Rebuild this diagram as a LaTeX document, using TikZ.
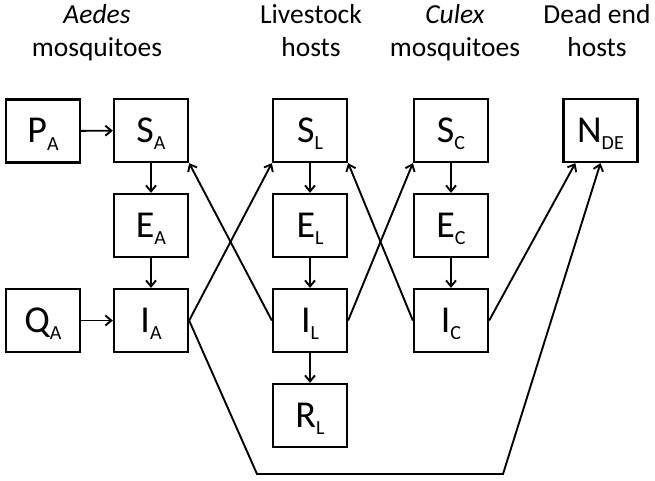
\documentclass[tikz,border=0pt]{standalone}
\usepackage{fontspec}
\setmainfont{Carlito}
\usetikzlibrary{arrows.meta,calc}
\newcommand\cmpt[2]{{\fontsize{38}{40}\selectfont #1}\smash{\raisebox{-7pt}{\fontsize{20}{22}\selectfont #2}}}
\begin{document}
\begin{tikzpicture}[x=1pt,y=-1pt,
  box/.style={draw, line width=2.3pt, minimum width=74pt, minimum height=63pt, inner sep=0pt, text height=24pt, text depth=0pt},
  hd/.style={font=\fontsize{27.5}{32}\selectfont, anchor=base, inner sep=0pt},
  arr/.style={-{Straight Barb[length=6pt,width=10pt]}, line width=1.9pt}]
\useasboundingbox (0,0) rectangle (655,481);
% headers
\node[hd] (h1a) at (97,24) {\itshape Aedes};
\node[hd] (h1b) at (97,57) {mosquitoes};
\node[hd] (h2a) at (311,24) {Livestock};
\node[hd] (h2b) at (311,57) {hosts};
\node[hd] (h3a) at (455,24) {\itshape Culex};
\node[hd] (h3b) at (455,57) {mosquitoes};
\node[hd] (h4a) at (597,24) {Dead end};
\node[hd] (h4b) at (597,57) {hosts};
% boxes
\node[box] (PA) at (43,131) {\cmpt{P}{A}};
\node[box] (QA) at (43,320.5) {\cmpt{Q}{A}};
\node[box] (SA) at (151,130.5) {\cmpt{S}{A}};
\node[box] (EA) at (151,225.5) {\cmpt{E}{A}};
\node[box] (IA) at (151,320.5) {\cmpt{I}{A}};
\node[box] (SL) at (310,130.5) {\cmpt{S}{L}};
\node[box] (EL) at (310,225.5) {\cmpt{E}{L}};
\node[box] (IL) at (310,320.5) {\cmpt{I}{L}};
\node[box] (RL) at (310,415.5) {\cmpt{R}{L}};
\node[box] (SC) at (451,130.5) {\cmpt{S}{C}};
\node[box] (EC) at (451,225.5) {\cmpt{E}{C}};
\node[box] (IC) at (451,320.5) {\cmpt{I}{C}};
\node[box] (NDE) at (600.5,130.5) {\cmpt{N}{DE}};
% arrows
\draw[arr] (PA) -- (SA);
\draw[arr] (QA) -- (IA);
\draw[arr] (SA) -- (EA);
\draw[arr] (EA) -- (IA);
\draw[arr] (SL) -- (EL);
\draw[arr] (EL) -- (IL);
\draw[arr] (IL) -- (RL);
\draw[arr] (SC) -- (EC);
\draw[arr] (EC) -- (IC);
\draw[arr] (IA.east) -- (SL.south west);
\draw[arr] (IL.west) -- (SA.south east);
\draw[arr] (IL.east) -- (SC.south west);
\draw[arr] (IC.west) -- (SL.south east);
\draw[arr] (IC.east) -- ($(NDE.south west)+(13,0)$);
\coordinate (b1) at (257,474);
\coordinate (b2) at (503,474);
\draw[arr] (IA.east) -- (b1) -- (b2) -- (NDE.south);
\end{tikzpicture}
\end{document}
